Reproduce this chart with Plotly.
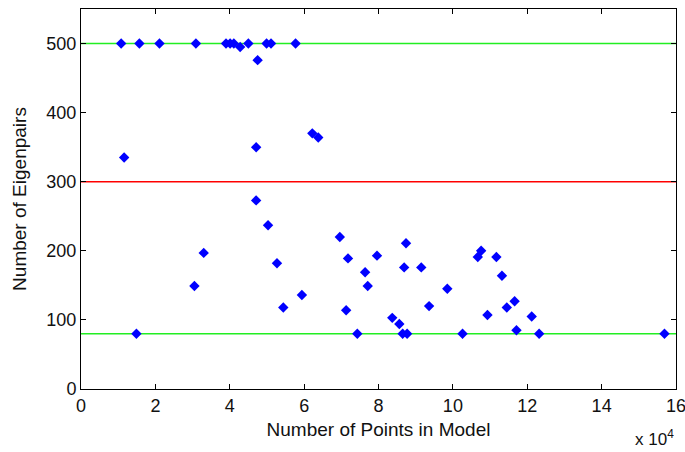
import plotly.graph_objects as go

# Data (x in units of 10^4 points)
x_points = [1.08, 1.16, 1.49, 1.57, 2.11, 3.05, 3.09, 3.30, 3.90, 4.01, 4.11, 4.28,
            4.50, 4.71, 4.71, 4.75, 4.99, 5.03, 5.11, 5.27, 5.44, 5.77, 5.94, 6.22,
            6.38, 6.96, 7.13, 7.18, 7.43, 7.64, 7.71, 7.96, 8.37, 8.56, 8.65, 8.69,
            8.74, 8.77, 9.15, 9.36, 9.85, 10.26, 10.67, 10.76, 10.93, 11.17, 11.32,
            11.45, 11.66, 11.71, 12.12, 12.32, 15.69]
y_eigenpairs = [500, 335, 80, 500, 500, 149, 500, 197, 500, 500, 500, 495,
                500, 350, 273, 476, 500, 237, 500, 182, 118, 500, 136, 370,
                364, 220, 114, 189, 80, 169, 149, 193, 103, 94, 80, 176,
                211, 80, 176, 120, 145, 80, 191, 200, 107, 191, 164,
                118, 127, 85, 105, 80, 80]

green_levels = [500, 80]
red_levels = [300]
x_span = [0, 16]

x_ticks = [0, 2, 4, 6, 8, 10, 12, 14, 16]
y_ticks = [0, 100, 200, 300, 400, 500]

FONT = "Liberation Sans"

fig = go.Figure()

for lvl in green_levels:
    fig.add_trace(go.Scatter(x=x_span, y=[lvl, lvl], mode="lines",
                             line=dict(color="#22ee22", width=1.6),
                             showlegend=False, hoverinfo="skip"))
for lvl in red_levels:
    fig.add_trace(go.Scatter(x=x_span, y=[lvl, lvl], mode="lines",
                             line=dict(color="#ff0000", width=1.6),
                             showlegend=False, hoverinfo="skip"))

fig.add_trace(go.Scatter(x=x_points, y=y_eigenpairs, mode="markers",
                         marker=dict(symbol="diamond", size=8, color="#0000ff",
                                     line=dict(width=0)),
                         showlegend=False))

axis_common = dict(showgrid=False, zeroline=False, showline=True, linecolor="black",
                   linewidth=1, mirror="ticks", ticks="inside", ticklen=5,
                   tickcolor="black", ticklabeloverflow="allow", automargin=False,
                   tickfont=dict(family=FONT, size=18, color="#111"))

fig.update_xaxes(range=[0, 16], tickvals=x_ticks, ticktext=[str(v) for v in x_ticks],
                 title=dict(text="Number of Points in Model",
                            font=dict(family=FONT, size=19, color="#111"), standoff=8),
                 **axis_common)
fig.update_yaxes(range=[0, 550], tickvals=y_ticks, ticktext=[str(v) for v in y_ticks],
                 title=dict(text="Number of Eigenpairs",
                            font=dict(family=FONT, size=19, color="#111"), standoff=14),
                 **axis_common)

fig.add_annotation(text="x 10<sup>4</sup>", xref="paper", yref="paper", x=1.0, y=-0.128,
                   xanchor="right", yanchor="middle", showarrow=False,
                   font=dict(family=FONT, size=17, color="#111"))

fig.update_layout(width=685, height=452, margin=dict(l=81, r=9, t=9, b=63),
                  plot_bgcolor="white", paper_bgcolor="white")

fig.write_html("out.html")
